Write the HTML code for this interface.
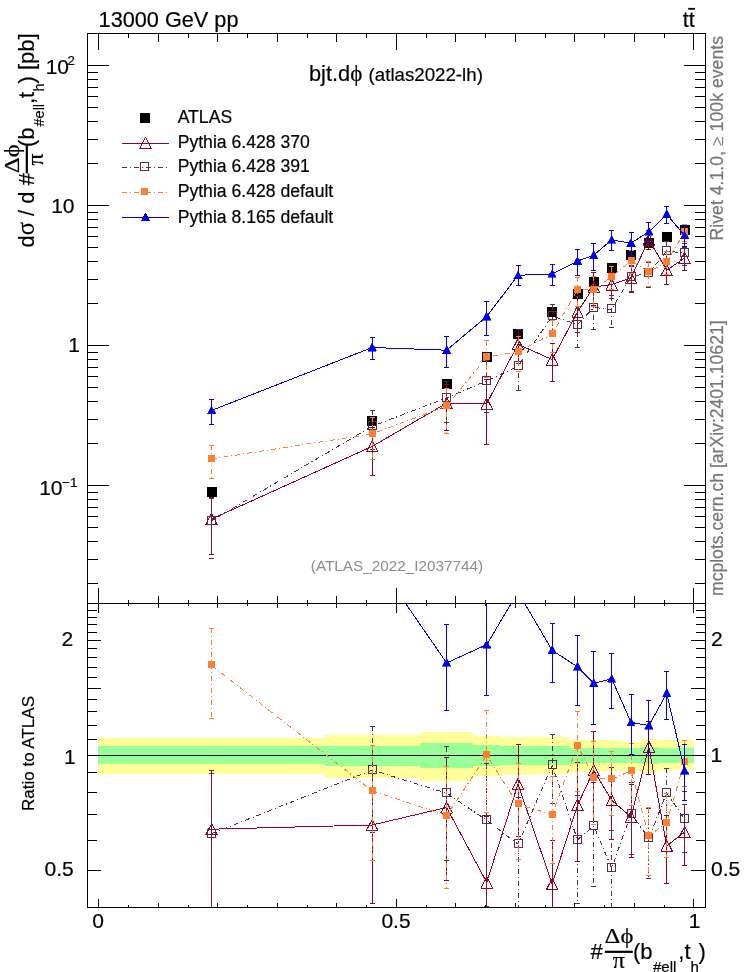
<!DOCTYPE html><html><head><meta charset="utf-8"><style>html,body{margin:0;padding:0;background:#fff}body{width:746px;height:972px;overflow:hidden}</style></head><body><svg width="746" height="972" viewBox="0 0 746 972" style="display:block;will-change:transform;font-family:'Liberation Sans',sans-serif">
<rect width="746" height="972" fill="#fff"/>
<defs>
<clipPath id="cm"><rect x="87.5" y="33.5" width="618.0" height="570.0"/></clipPath>
<clipPath id="cr"><rect x="87.5" y="603.5" width="618.0" height="304.0"/></clipPath>
</defs>
<g shape-rendering="crispEdges">
<rect x="98" y="738" width="227" height="36" fill="#ffff99"/>
<rect x="325" y="735" width="95" height="43" fill="#ffff99"/>
<rect x="420" y="732" width="53" height="49" fill="#ffff99"/>
<rect x="473" y="736" width="27" height="40" fill="#ffff99"/>
<rect x="500" y="737" width="36" height="38" fill="#ffff99"/>
<rect x="536" y="737" width="33" height="37" fill="#ffff99"/>
<rect x="569" y="740" width="17" height="32" fill="#ffff99"/>
<rect x="586" y="740" width="15" height="31" fill="#ffff99"/>
<rect x="601" y="740" width="21" height="31" fill="#ffff99"/>
<rect x="622" y="742" width="18" height="28" fill="#ffff99"/>
<rect x="640" y="739" width="18" height="33" fill="#ffff99"/>
<rect x="658" y="740" width="18" height="30" fill="#ffff99"/>
<rect x="676" y="740" width="18" height="30" fill="#ffff99"/>
<rect x="98" y="746" width="227" height="18" fill="#99ff99"/>
<rect x="325" y="746" width="95" height="20" fill="#99ff99"/>
<rect x="420" y="743" width="53" height="25" fill="#99ff99"/>
<rect x="473" y="745" width="27" height="21" fill="#99ff99"/>
<rect x="500" y="746" width="36" height="19" fill="#99ff99"/>
<rect x="536" y="746" width="33" height="19" fill="#99ff99"/>
<rect x="569" y="748" width="17" height="16" fill="#99ff99"/>
<rect x="586" y="748" width="15" height="15" fill="#99ff99"/>
<rect x="601" y="748" width="21" height="15" fill="#99ff99"/>
<rect x="622" y="748" width="18" height="15" fill="#99ff99"/>
<rect x="640" y="747" width="18" height="17" fill="#99ff99"/>
<rect x="658" y="748" width="18" height="15" fill="#99ff99"/>
<rect x="676" y="748" width="18" height="15" fill="#99ff99"/>
<line x1="98.0" x2="694.0" y1="755.5" y2="755.5" stroke="#000" stroke-width="1"/>
</g>
<g shape-rendering="crispEdges">
<g clip-path="url(#cm)">
<rect x="206.6" y="486.9" width="10" height="10" fill="#000"/>
<rect x="367.2" y="415.9" width="10" height="10" fill="#000"/>
<rect x="441.6" y="379.1" width="10" height="10" fill="#000"/>
<rect x="481.7" y="352.1" width="10" height="10" fill="#000"/>
<rect x="513.0" y="328.7" width="10" height="10" fill="#000"/>
<rect x="547.2" y="307.4" width="10" height="10" fill="#000"/>
<rect x="572.5" y="288.6" width="10" height="10" fill="#000"/>
<rect x="588.8" y="276.5" width="10" height="10" fill="#000"/>
<rect x="606.7" y="263.0" width="10" height="10" fill="#000"/>
<rect x="626.0" y="250.2" width="10" height="10" fill="#000"/>
<rect x="643.9" y="237.7" width="10" height="10" fill="#000"/>
<rect x="661.7" y="232.1" width="10" height="10" fill="#000"/>
<rect x="679.6" y="224.8" width="10" height="10" fill="#000"/>
</g>
<g clip-path="url(#cm)" fill="none">
<path d="M211.6,519.0 L372.2,446.4 L446.6,403.2 L486.7,403.7 L518.0,344.3 L552.2,359.6 L577.5,311.8 L593.8,287.0 L611.7,284.5 L631.0,277.8 L648.9,239.6 L666.7,270.2 L684.6,258.0" stroke="#9a0020" stroke-width="1"/>
<path d="M211.6,497.3V554.8" stroke="#9a0020" stroke-width="1"/>
<path d="M209.1,497.3h5M209.1,554.8h5" stroke="#9a0020" stroke-width="1"/>
<path d="M372.2,427.4V475.1" stroke="#9a0020" stroke-width="1"/>
<path d="M369.7,427.4h5M369.7,475.1h5" stroke="#9a0020" stroke-width="1"/>
<path d="M446.6,384.9V430.1" stroke="#9a0020" stroke-width="1"/>
<path d="M444.1,384.9h5M444.1,430.1h5" stroke="#9a0020" stroke-width="1"/>
<path d="M486.7,379.3V444.9" stroke="#9a0020" stroke-width="1"/>
<path d="M484.2,379.3h5M484.2,444.9h5" stroke="#9a0020" stroke-width="1"/>
<path d="M518.0,329.8V363.4" stroke="#9a0020" stroke-width="1"/>
<path d="M515.5,329.8h5M515.5,363.4h5" stroke="#9a0020" stroke-width="1"/>
<path d="M552.2,343.5V381.5" stroke="#9a0020" stroke-width="1"/>
<path d="M549.7,343.5h5M549.7,381.5h5" stroke="#9a0020" stroke-width="1"/>
<path d="M577.5,296.2V332.4" stroke="#9a0020" stroke-width="1"/>
<path d="M575.0,296.2h5M575.0,332.4h5" stroke="#9a0020" stroke-width="1"/>
<path d="M593.8,272.8V305.6" stroke="#9a0020" stroke-width="1"/>
<path d="M591.3,272.8h5M591.3,305.6h5" stroke="#9a0020" stroke-width="1"/>
<path d="M611.7,272.5V298.8" stroke="#9a0020" stroke-width="1"/>
<path d="M609.2,272.5h5M609.2,298.8h5" stroke="#9a0020" stroke-width="1"/>
<path d="M631.0,266.0V292.6" stroke="#9a0020" stroke-width="1"/>
<path d="M628.5,266.0h5M628.5,292.6h5" stroke="#9a0020" stroke-width="1"/>
<path d="M648.9,230.4V249.9" stroke="#9a0020" stroke-width="1"/>
<path d="M646.4,230.4h5M646.4,249.9h5" stroke="#9a0020" stroke-width="1"/>
<path d="M666.7,259.0V284.1" stroke="#9a0020" stroke-width="1"/>
<path d="M664.2,259.0h5M664.2,284.1h5" stroke="#9a0020" stroke-width="1"/>
<path d="M684.6,247.9V270.0" stroke="#9a0020" stroke-width="1"/>
<path d="M682.1,247.9h5M682.1,270.0h5" stroke="#9a0020" stroke-width="1"/>
<path d="M211.6,513.4L217.4,524.5L205.8,524.5Z" fill="none" stroke="#9a0020" stroke-width="1" stroke-linejoin="bevel"/>
<path d="M372.2,440.8L378.0,451.9L366.4,451.9Z" fill="none" stroke="#9a0020" stroke-width="1" stroke-linejoin="bevel"/>
<path d="M446.6,397.6L452.4,408.7L440.8,408.7Z" fill="none" stroke="#9a0020" stroke-width="1" stroke-linejoin="bevel"/>
<path d="M486.7,398.1L492.5,409.2L480.9,409.2Z" fill="none" stroke="#9a0020" stroke-width="1" stroke-linejoin="bevel"/>
<path d="M518.0,338.7L523.8,349.8L512.2,349.8Z" fill="none" stroke="#9a0020" stroke-width="1" stroke-linejoin="bevel"/>
<path d="M552.2,354.0L558.0,365.1L546.4,365.1Z" fill="none" stroke="#9a0020" stroke-width="1" stroke-linejoin="bevel"/>
<path d="M577.5,306.2L583.3,317.3L571.7,317.3Z" fill="none" stroke="#9a0020" stroke-width="1" stroke-linejoin="bevel"/>
<path d="M593.8,281.4L599.6,292.5L588.0,292.5Z" fill="none" stroke="#9a0020" stroke-width="1" stroke-linejoin="bevel"/>
<path d="M611.7,278.9L617.5,290.0L605.9,290.0Z" fill="none" stroke="#9a0020" stroke-width="1" stroke-linejoin="bevel"/>
<path d="M631.0,272.2L636.8,283.3L625.2,283.3Z" fill="none" stroke="#9a0020" stroke-width="1" stroke-linejoin="bevel"/>
<path d="M648.9,234.0L654.7,245.1L643.1,245.1Z" fill="none" stroke="#9a0020" stroke-width="1" stroke-linejoin="bevel"/>
<path d="M666.7,264.6L672.5,275.7L660.9,275.7Z" fill="none" stroke="#9a0020" stroke-width="1" stroke-linejoin="bevel"/>
<path d="M684.6,252.4L690.4,263.5L678.8,263.5Z" fill="none" stroke="#9a0020" stroke-width="1" stroke-linejoin="bevel"/>
</g>
<g clip-path="url(#cm)" fill="none">
<path d="M211.6,520.6 L372.2,426.3 L446.6,397.9 L486.7,380.9 L518.0,366.3 L552.2,316.0 L577.5,324.6 L593.8,307.5 L611.7,309.4 L631.0,276.5 L648.9,273.1 L666.7,250.8 L684.6,253.3" stroke="#5e2a4c" stroke-width="1" stroke-dasharray="5 3 1 3"/>
<path d="M211.6,498.4V558.0" stroke="#5e2a4c" stroke-width="1" stroke-dasharray="5 3 1 3"/>
<path d="M209.1,498.4h5M209.1,558.0h5" stroke="#5e2a4c" stroke-width="1"/>
<path d="M372.2,410.2V449.0" stroke="#5e2a4c" stroke-width="1" stroke-dasharray="5 3 1 3"/>
<path d="M369.7,410.2h5M369.7,449.0h5" stroke="#5e2a4c" stroke-width="1"/>
<path d="M446.6,381.0V422.5" stroke="#5e2a4c" stroke-width="1" stroke-dasharray="5 3 1 3"/>
<path d="M444.1,381.0h5M444.1,422.5h5" stroke="#5e2a4c" stroke-width="1"/>
<path d="M486.7,360.2V412.4" stroke="#5e2a4c" stroke-width="1" stroke-dasharray="5 3 1 3"/>
<path d="M484.2,360.2h5M484.2,412.4h5" stroke="#5e2a4c" stroke-width="1"/>
<path d="M518.0,349.0V390.4" stroke="#5e2a4c" stroke-width="1" stroke-dasharray="5 3 1 3"/>
<path d="M515.5,349.0h5M515.5,390.4h5" stroke="#5e2a4c" stroke-width="1"/>
<path d="M552.2,304.6V330.2" stroke="#5e2a4c" stroke-width="1" stroke-dasharray="5 3 1 3"/>
<path d="M549.7,304.6h5M549.7,330.2h5" stroke="#5e2a4c" stroke-width="1"/>
<path d="M577.5,308.4V347.7" stroke="#5e2a4c" stroke-width="1" stroke-dasharray="5 3 1 3"/>
<path d="M575.0,308.4h5M575.0,347.7h5" stroke="#5e2a4c" stroke-width="1"/>
<path d="M593.8,291.3V329.5" stroke="#5e2a4c" stroke-width="1" stroke-dasharray="5 3 1 3"/>
<path d="M591.3,291.3h5M591.3,329.5h5" stroke="#5e2a4c" stroke-width="1"/>
<path d="M611.7,295.5V327.2" stroke="#5e2a4c" stroke-width="1" stroke-dasharray="5 3 1 3"/>
<path d="M609.2,295.5h5M609.2,327.2h5" stroke="#5e2a4c" stroke-width="1"/>
<path d="M631.0,265.3V291.6" stroke="#5e2a4c" stroke-width="1" stroke-dasharray="5 3 1 3"/>
<path d="M628.5,265.3h5M628.5,291.6h5" stroke="#5e2a4c" stroke-width="1"/>
<path d="M648.9,262.1V287.9" stroke="#5e2a4c" stroke-width="1" stroke-dasharray="5 3 1 3"/>
<path d="M646.4,262.1h5M646.4,287.9h5" stroke="#5e2a4c" stroke-width="1"/>
<path d="M666.7,241.7V261.5" stroke="#5e2a4c" stroke-width="1" stroke-dasharray="5 3 1 3"/>
<path d="M664.2,241.7h5M664.2,261.5h5" stroke="#5e2a4c" stroke-width="1"/>
<path d="M684.6,243.1V265.5" stroke="#5e2a4c" stroke-width="1" stroke-dasharray="5 3 1 3"/>
<path d="M682.1,243.1h5M682.1,265.5h5" stroke="#5e2a4c" stroke-width="1"/>
<rect x="207.6" y="516.1" width="8" height="8" fill="none" stroke="#5e2a4c" stroke-width="1"/>
<rect x="368.2" y="421.8" width="8" height="8" fill="none" stroke="#5e2a4c" stroke-width="1"/>
<rect x="442.6" y="393.4" width="8" height="8" fill="none" stroke="#5e2a4c" stroke-width="1"/>
<rect x="482.7" y="376.4" width="8" height="8" fill="none" stroke="#5e2a4c" stroke-width="1"/>
<rect x="514.0" y="361.8" width="8" height="8" fill="none" stroke="#5e2a4c" stroke-width="1"/>
<rect x="548.2" y="311.5" width="8" height="8" fill="none" stroke="#5e2a4c" stroke-width="1"/>
<rect x="573.5" y="320.1" width="8" height="8" fill="none" stroke="#5e2a4c" stroke-width="1"/>
<rect x="589.8" y="303.0" width="8" height="8" fill="none" stroke="#5e2a4c" stroke-width="1"/>
<rect x="607.7" y="304.9" width="8" height="8" fill="none" stroke="#5e2a4c" stroke-width="1"/>
<rect x="627.0" y="272.0" width="8" height="8" fill="none" stroke="#5e2a4c" stroke-width="1"/>
<rect x="644.9" y="268.6" width="8" height="8" fill="none" stroke="#5e2a4c" stroke-width="1"/>
<rect x="662.7" y="246.3" width="8" height="8" fill="none" stroke="#5e2a4c" stroke-width="1"/>
<rect x="680.6" y="248.8" width="8" height="8" fill="none" stroke="#5e2a4c" stroke-width="1"/>
</g>
<g clip-path="url(#cm)" fill="none">
<path d="M211.6,458.9 L372.2,433.9 L446.6,406.1 L486.7,357.1 L518.0,351.6 L552.2,334.1 L577.5,290.0 L593.8,289.7 L611.7,276.8 L631.0,260.8 L648.9,272.2 L666.7,261.7 L684.6,232.2" stroke="#ff7f32" stroke-width="1" stroke-dasharray="5 3 1 3"/>
<path d="M211.6,445.3V478.2" stroke="#ff7f32" stroke-width="1" stroke-dasharray="5 3 1 3"/>
<path d="M209.1,445.3h5M209.1,478.2h5" stroke="#ff7f32" stroke-width="1"/>
<path d="M372.2,417.2V459.3" stroke="#ff7f32" stroke-width="1" stroke-dasharray="5 3 1 3"/>
<path d="M369.7,417.2h5M369.7,459.3h5" stroke="#ff7f32" stroke-width="1"/>
<path d="M446.6,388.2V433.0" stroke="#ff7f32" stroke-width="1" stroke-dasharray="5 3 1 3"/>
<path d="M444.1,388.2h5M444.1,433.0h5" stroke="#ff7f32" stroke-width="1"/>
<path d="M486.7,340.5V377.9" stroke="#ff7f32" stroke-width="1" stroke-dasharray="5 3 1 3"/>
<path d="M484.2,340.5h5M484.2,377.9h5" stroke="#ff7f32" stroke-width="1"/>
<path d="M518.0,336.5V371.8" stroke="#ff7f32" stroke-width="1" stroke-dasharray="5 3 1 3"/>
<path d="M515.5,336.5h5M515.5,371.8h5" stroke="#ff7f32" stroke-width="1"/>
<path d="M552.2,320.3V352.0" stroke="#ff7f32" stroke-width="1" stroke-dasharray="5 3 1 3"/>
<path d="M549.7,320.3h5M549.7,352.0h5" stroke="#ff7f32" stroke-width="1"/>
<path d="M577.5,277.3V306.9" stroke="#ff7f32" stroke-width="1" stroke-dasharray="5 3 1 3"/>
<path d="M575.0,277.3h5M575.0,306.9h5" stroke="#ff7f32" stroke-width="1"/>
<path d="M593.8,276.2V306.9" stroke="#ff7f32" stroke-width="1" stroke-dasharray="5 3 1 3"/>
<path d="M591.3,276.2h5M591.3,306.9h5" stroke="#ff7f32" stroke-width="1"/>
<path d="M611.7,266.6V289.9" stroke="#ff7f32" stroke-width="1" stroke-dasharray="5 3 1 3"/>
<path d="M609.2,266.6h5M609.2,289.9h5" stroke="#ff7f32" stroke-width="1"/>
<path d="M631.0,250.7V273.4" stroke="#ff7f32" stroke-width="1" stroke-dasharray="5 3 1 3"/>
<path d="M628.5,250.7h5M628.5,273.4h5" stroke="#ff7f32" stroke-width="1"/>
<path d="M648.9,261.6V286.7" stroke="#ff7f32" stroke-width="1" stroke-dasharray="5 3 1 3"/>
<path d="M646.4,261.6h5M646.4,286.7h5" stroke="#ff7f32" stroke-width="1"/>
<path d="M666.7,251.1V274.6" stroke="#ff7f32" stroke-width="1" stroke-dasharray="5 3 1 3"/>
<path d="M664.2,251.1h5M664.2,274.6h5" stroke="#ff7f32" stroke-width="1"/>
<path d="M684.6,224.3V241.2" stroke="#ff7f32" stroke-width="1" stroke-dasharray="5 3 1 3"/>
<path d="M682.1,224.3h5M682.1,241.2h5" stroke="#ff7f32" stroke-width="1"/>
<rect x="208.1" y="454.9" width="7" height="7" fill="#ff7f32"/>
<rect x="368.7" y="429.9" width="7" height="7" fill="#ff7f32"/>
<rect x="443.1" y="402.1" width="7" height="7" fill="#ff7f32"/>
<rect x="483.2" y="353.1" width="7" height="7" fill="#ff7f32"/>
<rect x="514.5" y="347.6" width="7" height="7" fill="#ff7f32"/>
<rect x="548.7" y="330.1" width="7" height="7" fill="#ff7f32"/>
<rect x="574.0" y="286.0" width="7" height="7" fill="#ff7f32"/>
<rect x="590.3" y="285.7" width="7" height="7" fill="#ff7f32"/>
<rect x="608.2" y="272.8" width="7" height="7" fill="#ff7f32"/>
<rect x="627.5" y="256.8" width="7" height="7" fill="#ff7f32"/>
<rect x="645.4" y="268.2" width="7" height="7" fill="#ff7f32"/>
<rect x="663.2" y="257.7" width="7" height="7" fill="#ff7f32"/>
<rect x="681.1" y="228.2" width="7" height="7" fill="#ff7f32"/>
</g>
<g clip-path="url(#cm)" fill="none">
<path d="M211.6,410.4 L372.2,347.5 L446.6,350.2 L486.7,316.5 L518.0,275.3 L552.2,273.9 L577.5,261.1 L593.8,255.1 L611.7,239.9 L631.0,243.1 L648.9,231.8 L666.7,214.4 L684.6,235.4" stroke="#0000ee" stroke-width="1"/>
<path d="M211.6,399.3V424.3" stroke="#0000ee" stroke-width="1"/>
<path d="M209.1,399.3h5M209.1,424.3h5" stroke="#0000ee" stroke-width="1"/>
<path d="M372.2,337.3V359.5" stroke="#0000ee" stroke-width="1"/>
<path d="M369.7,337.3h5M369.7,359.5h5" stroke="#0000ee" stroke-width="1"/>
<path d="M446.6,336.3V367.8" stroke="#0000ee" stroke-width="1"/>
<path d="M444.1,336.3h5M444.1,367.8h5" stroke="#0000ee" stroke-width="1"/>
<path d="M486.7,301.0V335.3" stroke="#0000ee" stroke-width="1"/>
<path d="M484.2,301.0h5M484.2,335.3h5" stroke="#0000ee" stroke-width="1"/>
<path d="M518.0,265.5V285.4" stroke="#0000ee" stroke-width="1"/>
<path d="M515.5,265.5h5M515.5,285.4h5" stroke="#0000ee" stroke-width="1"/>
<path d="M552.2,264.2V285.6" stroke="#0000ee" stroke-width="1"/>
<path d="M549.7,264.2h5M549.7,285.6h5" stroke="#0000ee" stroke-width="1"/>
<path d="M577.5,249.6V275.4" stroke="#0000ee" stroke-width="1"/>
<path d="M575.0,249.6h5M575.0,275.4h5" stroke="#0000ee" stroke-width="1"/>
<path d="M593.8,243.4V270.2" stroke="#0000ee" stroke-width="1"/>
<path d="M591.3,243.4h5M591.3,270.2h5" stroke="#0000ee" stroke-width="1"/>
<path d="M611.7,230.6V250.9" stroke="#0000ee" stroke-width="1"/>
<path d="M609.2,230.6h5M609.2,250.9h5" stroke="#0000ee" stroke-width="1"/>
<path d="M631.0,232.9V255.0" stroke="#0000ee" stroke-width="1"/>
<path d="M628.5,232.9h5M628.5,255.0h5" stroke="#0000ee" stroke-width="1"/>
<path d="M648.9,222.5V242.6" stroke="#0000ee" stroke-width="1"/>
<path d="M646.4,222.5h5M646.4,242.6h5" stroke="#0000ee" stroke-width="1"/>
<path d="M666.7,206.2V223.9" stroke="#0000ee" stroke-width="1"/>
<path d="M664.2,206.2h5M664.2,223.9h5" stroke="#0000ee" stroke-width="1"/>
<path d="M684.6,225.8V246.5" stroke="#0000ee" stroke-width="1"/>
<path d="M682.1,225.8h5M682.1,246.5h5" stroke="#0000ee" stroke-width="1"/>
<path d="M211.6,405.9L215.8,413.9L207.4,413.9Z" fill="#0000ee" stroke="#0000ee" stroke-width="0.6"/>
<path d="M372.2,343.0L376.4,351.0L368.0,351.0Z" fill="#0000ee" stroke="#0000ee" stroke-width="0.6"/>
<path d="M446.6,345.7L450.8,353.7L442.4,353.7Z" fill="#0000ee" stroke="#0000ee" stroke-width="0.6"/>
<path d="M486.7,312.0L490.9,320.0L482.5,320.0Z" fill="#0000ee" stroke="#0000ee" stroke-width="0.6"/>
<path d="M518.0,270.8L522.2,278.8L513.8,278.8Z" fill="#0000ee" stroke="#0000ee" stroke-width="0.6"/>
<path d="M552.2,269.4L556.4,277.4L548.0,277.4Z" fill="#0000ee" stroke="#0000ee" stroke-width="0.6"/>
<path d="M577.5,256.6L581.7,264.6L573.3,264.6Z" fill="#0000ee" stroke="#0000ee" stroke-width="0.6"/>
<path d="M593.8,250.6L598.0,258.6L589.6,258.6Z" fill="#0000ee" stroke="#0000ee" stroke-width="0.6"/>
<path d="M611.7,235.4L615.9,243.4L607.5,243.4Z" fill="#0000ee" stroke="#0000ee" stroke-width="0.6"/>
<path d="M631.0,238.6L635.2,246.6L626.8,246.6Z" fill="#0000ee" stroke="#0000ee" stroke-width="0.6"/>
<path d="M648.9,227.3L653.1,235.3L644.7,235.3Z" fill="#0000ee" stroke="#0000ee" stroke-width="0.6"/>
<path d="M666.7,209.9L670.9,217.9L662.5,217.9Z" fill="#0000ee" stroke="#0000ee" stroke-width="0.6"/>
<path d="M684.6,230.9L688.8,238.9L680.4,238.9Z" fill="#0000ee" stroke="#0000ee" stroke-width="0.6"/>
</g>
<g clip-path="url(#cr)" fill="none">
<path d="M211.6,829.2 L372.2,825.0 L446.6,807.5 L486.7,882.5 L518.0,784.2 L552.2,884.1 L577.5,805.1 L593.8,770.4 L611.7,800.4 L631.0,817.0 L648.9,747.0 L666.7,845.8 L684.6,832.2" stroke="#9a0020" stroke-width="1"/>
<path d="M211.6,770.0V927.0" stroke="#9a0020" stroke-width="1"/>
<path d="M209.1,770.0h5M209.1,927.0h5" stroke="#9a0020" stroke-width="1"/>
<path d="M372.2,773.0V903.2" stroke="#9a0020" stroke-width="1"/>
<path d="M369.7,773.0h5M369.7,903.2h5" stroke="#9a0020" stroke-width="1"/>
<path d="M446.6,757.4V880.9" stroke="#9a0020" stroke-width="1"/>
<path d="M444.1,757.4h5M444.1,880.9h5" stroke="#9a0020" stroke-width="1"/>
<path d="M486.7,816.0V995.0" stroke="#9a0020" stroke-width="1"/>
<path d="M484.2,816.0h5M484.2,995.0h5" stroke="#9a0020" stroke-width="1"/>
<path d="M518.0,744.6V836.3" stroke="#9a0020" stroke-width="1"/>
<path d="M515.5,744.6h5M515.5,836.3h5" stroke="#9a0020" stroke-width="1"/>
<path d="M552.2,840.2V943.9" stroke="#9a0020" stroke-width="1"/>
<path d="M549.7,840.2h5M549.7,943.9h5" stroke="#9a0020" stroke-width="1"/>
<path d="M577.5,762.4V861.3" stroke="#9a0020" stroke-width="1"/>
<path d="M575.0,762.4h5M575.0,861.3h5" stroke="#9a0020" stroke-width="1"/>
<path d="M593.8,731.6V821.1" stroke="#9a0020" stroke-width="1"/>
<path d="M591.3,731.6h5M591.3,821.1h5" stroke="#9a0020" stroke-width="1"/>
<path d="M611.7,767.7V839.5" stroke="#9a0020" stroke-width="1"/>
<path d="M609.2,767.7h5M609.2,839.5h5" stroke="#9a0020" stroke-width="1"/>
<path d="M631.0,784.8V857.3" stroke="#9a0020" stroke-width="1"/>
<path d="M628.5,784.8h5M628.5,857.3h5" stroke="#9a0020" stroke-width="1"/>
<path d="M648.9,721.8V774.9" stroke="#9a0020" stroke-width="1"/>
<path d="M646.4,721.8h5M646.4,774.9h5" stroke="#9a0020" stroke-width="1"/>
<path d="M666.7,815.1V883.6" stroke="#9a0020" stroke-width="1"/>
<path d="M664.2,815.1h5M664.2,883.6h5" stroke="#9a0020" stroke-width="1"/>
<path d="M684.6,804.8V865.1" stroke="#9a0020" stroke-width="1"/>
<path d="M682.1,804.8h5M682.1,865.1h5" stroke="#9a0020" stroke-width="1"/>
<path d="M211.6,823.6L217.4,834.7L205.8,834.7Z" fill="none" stroke="#9a0020" stroke-width="1" stroke-linejoin="bevel"/>
<path d="M372.2,819.4L378.0,830.5L366.4,830.5Z" fill="none" stroke="#9a0020" stroke-width="1" stroke-linejoin="bevel"/>
<path d="M446.6,801.9L452.4,813.0L440.8,813.0Z" fill="none" stroke="#9a0020" stroke-width="1" stroke-linejoin="bevel"/>
<path d="M486.7,876.9L492.5,888.0L480.9,888.0Z" fill="none" stroke="#9a0020" stroke-width="1" stroke-linejoin="bevel"/>
<path d="M518.0,778.6L523.8,789.7L512.2,789.7Z" fill="none" stroke="#9a0020" stroke-width="1" stroke-linejoin="bevel"/>
<path d="M552.2,878.5L558.0,889.6L546.4,889.6Z" fill="none" stroke="#9a0020" stroke-width="1" stroke-linejoin="bevel"/>
<path d="M577.5,799.5L583.3,810.6L571.7,810.6Z" fill="none" stroke="#9a0020" stroke-width="1" stroke-linejoin="bevel"/>
<path d="M593.8,764.8L599.6,775.9L588.0,775.9Z" fill="none" stroke="#9a0020" stroke-width="1" stroke-linejoin="bevel"/>
<path d="M611.7,794.8L617.5,805.9L605.9,805.9Z" fill="none" stroke="#9a0020" stroke-width="1" stroke-linejoin="bevel"/>
<path d="M631.0,811.4L636.8,822.5L625.2,822.5Z" fill="none" stroke="#9a0020" stroke-width="1" stroke-linejoin="bevel"/>
<path d="M648.9,741.4L654.7,752.5L643.1,752.5Z" fill="none" stroke="#9a0020" stroke-width="1" stroke-linejoin="bevel"/>
<path d="M666.7,840.2L672.5,851.3L660.9,851.3Z" fill="none" stroke="#9a0020" stroke-width="1" stroke-linejoin="bevel"/>
<path d="M684.6,826.6L690.4,837.7L678.8,837.7Z" fill="none" stroke="#9a0020" stroke-width="1" stroke-linejoin="bevel"/>
</g>
<g clip-path="url(#cr)" fill="none">
<path d="M211.6,833.6 L372.2,770.1 L446.6,793.1 L486.7,820.2 L518.0,844.2 L552.2,765.3 L577.5,839.8 L593.8,826.2 L611.7,868.2 L631.0,813.5 L648.9,838.4 L666.7,792.7 L684.6,819.4" stroke="#5e2a4c" stroke-width="1" stroke-dasharray="5 3 1 3"/>
<path d="M211.6,773.0V935.7" stroke="#5e2a4c" stroke-width="1" stroke-dasharray="5 3 1 3"/>
<path d="M209.1,773.0h5M209.1,935.7h5" stroke="#5e2a4c" stroke-width="1"/>
<path d="M372.2,726.1V832.0" stroke="#5e2a4c" stroke-width="1" stroke-dasharray="5 3 1 3"/>
<path d="M369.7,726.1h5M369.7,832.0h5" stroke="#5e2a4c" stroke-width="1"/>
<path d="M446.6,746.8V860.0" stroke="#5e2a4c" stroke-width="1" stroke-dasharray="5 3 1 3"/>
<path d="M444.1,746.8h5M444.1,860.0h5" stroke="#5e2a4c" stroke-width="1"/>
<path d="M486.7,763.9V906.2" stroke="#5e2a4c" stroke-width="1" stroke-dasharray="5 3 1 3"/>
<path d="M484.2,763.9h5M484.2,906.2h5" stroke="#5e2a4c" stroke-width="1"/>
<path d="M518.0,797.2V910.0" stroke="#5e2a4c" stroke-width="1" stroke-dasharray="5 3 1 3"/>
<path d="M515.5,797.2h5M515.5,910.0h5" stroke="#5e2a4c" stroke-width="1"/>
<path d="M552.2,734.1V803.8" stroke="#5e2a4c" stroke-width="1" stroke-dasharray="5 3 1 3"/>
<path d="M549.7,734.1h5M549.7,803.8h5" stroke="#5e2a4c" stroke-width="1"/>
<path d="M577.5,795.7V903.0" stroke="#5e2a4c" stroke-width="1" stroke-dasharray="5 3 1 3"/>
<path d="M575.0,795.7h5M575.0,903.0h5" stroke="#5e2a4c" stroke-width="1"/>
<path d="M593.8,782.2V886.2" stroke="#5e2a4c" stroke-width="1" stroke-dasharray="5 3 1 3"/>
<path d="M591.3,782.2h5M591.3,886.2h5" stroke="#5e2a4c" stroke-width="1"/>
<path d="M611.7,830.5V917.0" stroke="#5e2a4c" stroke-width="1" stroke-dasharray="5 3 1 3"/>
<path d="M609.2,830.5h5M609.2,917.0h5" stroke="#5e2a4c" stroke-width="1"/>
<path d="M631.0,782.9V854.7" stroke="#5e2a4c" stroke-width="1" stroke-dasharray="5 3 1 3"/>
<path d="M628.5,782.9h5M628.5,854.7h5" stroke="#5e2a4c" stroke-width="1"/>
<path d="M648.9,808.3V878.7" stroke="#5e2a4c" stroke-width="1" stroke-dasharray="5 3 1 3"/>
<path d="M646.4,808.3h5M646.4,878.7h5" stroke="#5e2a4c" stroke-width="1"/>
<path d="M666.7,768.0V821.8" stroke="#5e2a4c" stroke-width="1" stroke-dasharray="5 3 1 3"/>
<path d="M664.2,768.0h5M664.2,821.8h5" stroke="#5e2a4c" stroke-width="1"/>
<path d="M684.6,791.7V852.7" stroke="#5e2a4c" stroke-width="1" stroke-dasharray="5 3 1 3"/>
<path d="M682.1,791.7h5M682.1,852.7h5" stroke="#5e2a4c" stroke-width="1"/>
<rect x="207.6" y="829.1" width="8" height="8" fill="none" stroke="#5e2a4c" stroke-width="1"/>
<rect x="368.2" y="765.6" width="8" height="8" fill="none" stroke="#5e2a4c" stroke-width="1"/>
<rect x="442.6" y="788.6" width="8" height="8" fill="none" stroke="#5e2a4c" stroke-width="1"/>
<rect x="482.7" y="815.7" width="8" height="8" fill="none" stroke="#5e2a4c" stroke-width="1"/>
<rect x="514.0" y="839.7" width="8" height="8" fill="none" stroke="#5e2a4c" stroke-width="1"/>
<rect x="548.2" y="760.8" width="8" height="8" fill="none" stroke="#5e2a4c" stroke-width="1"/>
<rect x="573.5" y="835.3" width="8" height="8" fill="none" stroke="#5e2a4c" stroke-width="1"/>
<rect x="589.8" y="821.7" width="8" height="8" fill="none" stroke="#5e2a4c" stroke-width="1"/>
<rect x="607.7" y="863.7" width="8" height="8" fill="none" stroke="#5e2a4c" stroke-width="1"/>
<rect x="627.0" y="809.0" width="8" height="8" fill="none" stroke="#5e2a4c" stroke-width="1"/>
<rect x="644.9" y="833.9" width="8" height="8" fill="none" stroke="#5e2a4c" stroke-width="1"/>
<rect x="662.7" y="788.2" width="8" height="8" fill="none" stroke="#5e2a4c" stroke-width="1"/>
<rect x="680.6" y="814.9" width="8" height="8" fill="none" stroke="#5e2a4c" stroke-width="1"/>
</g>
<g clip-path="url(#cr)" fill="none">
<path d="M211.6,665.4 L372.2,790.9 L446.6,815.5 L486.7,755.4 L518.0,804.3 L552.2,814.5 L577.5,745.6 L593.8,777.6 L611.7,779.4 L631.0,770.6 L648.9,835.9 L666.7,822.6 L684.6,761.8" stroke="#ff7f32" stroke-width="1" stroke-dasharray="5 3 1 3"/>
<path d="M211.6,628.1V718.1" stroke="#ff7f32" stroke-width="1" stroke-dasharray="5 3 1 3"/>
<path d="M209.1,628.1h5M209.1,718.1h5" stroke="#ff7f32" stroke-width="1"/>
<path d="M372.2,745.2V860.1" stroke="#ff7f32" stroke-width="1" stroke-dasharray="5 3 1 3"/>
<path d="M369.7,745.2h5M369.7,860.1h5" stroke="#ff7f32" stroke-width="1"/>
<path d="M446.6,766.6V888.9" stroke="#ff7f32" stroke-width="1" stroke-dasharray="5 3 1 3"/>
<path d="M444.1,766.6h5M444.1,888.9h5" stroke="#ff7f32" stroke-width="1"/>
<path d="M486.7,710.1V812.2" stroke="#ff7f32" stroke-width="1" stroke-dasharray="5 3 1 3"/>
<path d="M484.2,710.1h5M484.2,812.2h5" stroke="#ff7f32" stroke-width="1"/>
<path d="M518.0,763.1V859.2" stroke="#ff7f32" stroke-width="1" stroke-dasharray="5 3 1 3"/>
<path d="M515.5,763.1h5M515.5,859.2h5" stroke="#ff7f32" stroke-width="1"/>
<path d="M552.2,776.8V863.3" stroke="#ff7f32" stroke-width="1" stroke-dasharray="5 3 1 3"/>
<path d="M549.7,776.8h5M549.7,863.3h5" stroke="#ff7f32" stroke-width="1"/>
<path d="M577.5,711.0V791.6" stroke="#ff7f32" stroke-width="1" stroke-dasharray="5 3 1 3"/>
<path d="M575.0,711.0h5M575.0,791.6h5" stroke="#ff7f32" stroke-width="1"/>
<path d="M593.8,741.0V824.7" stroke="#ff7f32" stroke-width="1" stroke-dasharray="5 3 1 3"/>
<path d="M591.3,741.0h5M591.3,824.7h5" stroke="#ff7f32" stroke-width="1"/>
<path d="M611.7,751.4V815.0" stroke="#ff7f32" stroke-width="1" stroke-dasharray="5 3 1 3"/>
<path d="M609.2,751.4h5M609.2,815.0h5" stroke="#ff7f32" stroke-width="1"/>
<path d="M631.0,743.1V805.0" stroke="#ff7f32" stroke-width="1" stroke-dasharray="5 3 1 3"/>
<path d="M628.5,743.1h5M628.5,805.0h5" stroke="#ff7f32" stroke-width="1"/>
<path d="M648.9,807.0V875.5" stroke="#ff7f32" stroke-width="1" stroke-dasharray="5 3 1 3"/>
<path d="M646.4,807.0h5M646.4,875.5h5" stroke="#ff7f32" stroke-width="1"/>
<path d="M666.7,793.6V857.7" stroke="#ff7f32" stroke-width="1" stroke-dasharray="5 3 1 3"/>
<path d="M664.2,793.6h5M664.2,857.7h5" stroke="#ff7f32" stroke-width="1"/>
<path d="M684.6,740.3V786.5" stroke="#ff7f32" stroke-width="1" stroke-dasharray="5 3 1 3"/>
<path d="M682.1,740.3h5M682.1,786.5h5" stroke="#ff7f32" stroke-width="1"/>
<rect x="208.1" y="661.4" width="7" height="7" fill="#ff7f32"/>
<rect x="368.7" y="786.9" width="7" height="7" fill="#ff7f32"/>
<rect x="443.1" y="811.5" width="7" height="7" fill="#ff7f32"/>
<rect x="483.2" y="751.4" width="7" height="7" fill="#ff7f32"/>
<rect x="514.5" y="800.3" width="7" height="7" fill="#ff7f32"/>
<rect x="548.7" y="810.5" width="7" height="7" fill="#ff7f32"/>
<rect x="574.0" y="741.6" width="7" height="7" fill="#ff7f32"/>
<rect x="590.3" y="773.6" width="7" height="7" fill="#ff7f32"/>
<rect x="608.2" y="775.4" width="7" height="7" fill="#ff7f32"/>
<rect x="627.5" y="766.6" width="7" height="7" fill="#ff7f32"/>
<rect x="645.4" y="831.9" width="7" height="7" fill="#ff7f32"/>
<rect x="663.2" y="818.6" width="7" height="7" fill="#ff7f32"/>
<rect x="681.1" y="757.8" width="7" height="7" fill="#ff7f32"/>
</g>
<g clip-path="url(#cr)" fill="none">
<path d="M211.6,533.0 L372.2,555.1 L446.6,662.9 L486.7,644.7 L518.0,592.0 L552.2,650.4 L577.5,666.8 L593.8,683.4 L611.7,678.8 L631.0,722.4 L648.9,725.5 L666.7,693.4 L684.6,770.5" stroke="#0000ee" stroke-width="1"/>
<path d="M446.6,624.9V710.8" stroke="#0000ee" stroke-width="1"/>
<path d="M444.1,624.9h5M444.1,710.8h5" stroke="#0000ee" stroke-width="1"/>
<path d="M486.7,602.4V695.8" stroke="#0000ee" stroke-width="1"/>
<path d="M484.2,602.4h5M484.2,695.8h5" stroke="#0000ee" stroke-width="1"/>
<path d="M552.2,623.9V682.3" stroke="#0000ee" stroke-width="1"/>
<path d="M549.7,623.9h5M549.7,682.3h5" stroke="#0000ee" stroke-width="1"/>
<path d="M577.5,635.3V705.6" stroke="#0000ee" stroke-width="1"/>
<path d="M575.0,635.3h5M575.0,705.6h5" stroke="#0000ee" stroke-width="1"/>
<path d="M593.8,651.3V724.5" stroke="#0000ee" stroke-width="1"/>
<path d="M591.3,651.3h5M591.3,724.5h5" stroke="#0000ee" stroke-width="1"/>
<path d="M611.7,653.4V708.6" stroke="#0000ee" stroke-width="1"/>
<path d="M609.2,653.4h5M609.2,708.6h5" stroke="#0000ee" stroke-width="1"/>
<path d="M631.0,694.6V754.7" stroke="#0000ee" stroke-width="1"/>
<path d="M628.5,694.6h5M628.5,754.7h5" stroke="#0000ee" stroke-width="1"/>
<path d="M648.9,700.3V755.2" stroke="#0000ee" stroke-width="1"/>
<path d="M646.4,700.3h5M646.4,755.2h5" stroke="#0000ee" stroke-width="1"/>
<path d="M666.7,671.1V719.3" stroke="#0000ee" stroke-width="1"/>
<path d="M664.2,671.1h5M664.2,719.3h5" stroke="#0000ee" stroke-width="1"/>
<path d="M684.6,744.5V800.8" stroke="#0000ee" stroke-width="1"/>
<path d="M682.1,744.5h5M682.1,800.8h5" stroke="#0000ee" stroke-width="1"/>
<path d="M446.6,658.4L450.8,666.4L442.4,666.4Z" fill="#0000ee" stroke="#0000ee" stroke-width="0.6"/>
<path d="M486.7,640.2L490.9,648.2L482.5,648.2Z" fill="#0000ee" stroke="#0000ee" stroke-width="0.6"/>
<path d="M552.2,645.9L556.4,653.9L548.0,653.9Z" fill="#0000ee" stroke="#0000ee" stroke-width="0.6"/>
<path d="M577.5,662.3L581.7,670.3L573.3,670.3Z" fill="#0000ee" stroke="#0000ee" stroke-width="0.6"/>
<path d="M593.8,678.9L598.0,686.9L589.6,686.9Z" fill="#0000ee" stroke="#0000ee" stroke-width="0.6"/>
<path d="M611.7,674.3L615.9,682.3L607.5,682.3Z" fill="#0000ee" stroke="#0000ee" stroke-width="0.6"/>
<path d="M631.0,717.9L635.2,725.9L626.8,725.9Z" fill="#0000ee" stroke="#0000ee" stroke-width="0.6"/>
<path d="M648.9,721.0L653.1,729.0L644.7,729.0Z" fill="#0000ee" stroke="#0000ee" stroke-width="0.6"/>
<path d="M666.7,688.9L670.9,696.9L662.5,696.9Z" fill="#0000ee" stroke="#0000ee" stroke-width="0.6"/>
<path d="M684.6,766.0L688.8,774.0L680.4,774.0Z" fill="#0000ee" stroke="#0000ee" stroke-width="0.6"/>
</g>
</g>
<g stroke="#000" stroke-width="1" fill="none" shape-rendering="crispEdges">
<rect x="87.5" y="33.5" width="618.0" height="570.0"/>
<rect x="87.5" y="603.5" width="618.0" height="304.0"/>
<path d="M98.5,33.5v16M98.5,587.5v25M98.5,907.5v-9M128.5,33.5v4M128.5,599.5v6M128.5,907.5v-3M158.5,33.5v8M158.5,595.5v12M158.5,907.5v-5M188.5,33.5v4M188.5,599.5v6M188.5,907.5v-3M217.5,33.5v8M217.5,595.5v12M217.5,907.5v-5M247.5,33.5v4M247.5,599.5v6M247.5,907.5v-3M277.5,33.5v8M277.5,595.5v12M277.5,907.5v-5M307.5,33.5v4M307.5,599.5v6M307.5,907.5v-3M336.5,33.5v8M336.5,595.5v12M336.5,907.5v-5M366.5,33.5v4M366.5,599.5v6M366.5,907.5v-3M396.5,33.5v16M396.5,587.5v25M396.5,907.5v-9M426.5,33.5v4M426.5,599.5v6M426.5,907.5v-3M455.5,33.5v8M455.5,595.5v12M455.5,907.5v-5M485.5,33.5v4M485.5,599.5v6M485.5,907.5v-3M515.5,33.5v8M515.5,595.5v12M515.5,907.5v-5M545.5,33.5v4M545.5,599.5v6M545.5,907.5v-3M574.5,33.5v8M574.5,595.5v12M574.5,907.5v-5M604.5,33.5v4M604.5,599.5v6M604.5,907.5v-3M634.5,33.5v8M634.5,595.5v12M634.5,907.5v-5M664.5,33.5v4M664.5,599.5v6M664.5,907.5v-3M693.5,33.5v16M693.5,587.5v25M693.5,907.5v-9M87.5,583.5h10M705.5,583.5h-11M87.5,559.5h10M705.5,559.5h-11M87.5,541.5h10M705.5,541.5h-11M87.5,527.5h10M705.5,527.5h-11M87.5,516.5h10M705.5,516.5h-11M87.5,507.5h10M705.5,507.5h-11M87.5,499.5h10M705.5,499.5h-11M87.5,492.5h10M705.5,492.5h-11M87.5,485.5h21M705.5,485.5h-22M87.5,443.5h10M705.5,443.5h-11M87.5,419.5h10M705.5,419.5h-11M87.5,401.5h10M705.5,401.5h-11M87.5,387.5h10M705.5,387.5h-11M87.5,376.5h10M705.5,376.5h-11M87.5,367.5h10M705.5,367.5h-11M87.5,359.5h10M705.5,359.5h-11M87.5,352.5h10M705.5,352.5h-11M87.5,345.5h21M705.5,345.5h-22M87.5,303.5h10M705.5,303.5h-11M87.5,279.5h10M705.5,279.5h-11M87.5,261.5h10M705.5,261.5h-11M87.5,247.5h10M705.5,247.5h-11M87.5,236.5h10M705.5,236.5h-11M87.5,227.5h10M705.5,227.5h-11M87.5,219.5h10M705.5,219.5h-11M87.5,212.5h10M705.5,212.5h-11M87.5,205.5h21M705.5,205.5h-22M87.5,163.5h10M705.5,163.5h-11M87.5,139.5h10M705.5,139.5h-11M87.5,121.5h10M705.5,121.5h-11M87.5,107.5h10M705.5,107.5h-11M87.5,96.5h10M705.5,96.5h-11M87.5,87.5h10M705.5,87.5h-11M87.5,79.5h10M705.5,79.5h-11M87.5,72.5h10M705.5,72.5h-11M87.5,65.5h21M705.5,65.5h-22M87.5,870.5h13M705.5,870.5h-15M87.5,840.5h9.5M705.5,840.5h-10M87.5,814.5h9.5M705.5,814.5h-10M87.5,792.5h9.5M705.5,792.5h-10M87.5,772.5h9.5M705.5,772.5h-10M87.5,755.5h13M705.5,755.5h-15M87.5,739.5h9.5M705.5,739.5h-10M87.5,725.5h9.5M705.5,725.5h-10M87.5,711.5h9.5M705.5,711.5h-10M87.5,699.5h9.5M705.5,699.5h-10M87.5,688.5h13M705.5,688.5h-15M87.5,677.5h9.5M705.5,677.5h-10M87.5,667.5h9.5M705.5,667.5h-10M87.5,657.5h9.5M705.5,657.5h-10M87.5,648.5h9.5M705.5,648.5h-10M87.5,640.5h13M705.5,640.5h-15M87.5,632.5h9.5M705.5,632.5h-10M87.5,624.5h9.5M705.5,624.5h-10M87.5,617.5h9.5M705.5,617.5h-10M87.5,610.5h9.5M705.5,610.5h-10"/>
</g>
<g fill="#000" stroke="#000" stroke-width="0.2">
<text x="98.6" y="26.8" font-size="21.7">13000 GeV pp</text>
<text x="694.7" y="26.8" font-size="21.5" text-anchor="end">tt</text>
<rect x="688.3" y="8.0" width="6.7" height="1.6"/>
<text x="309" y="81" font-size="21.8">bjt.d<tspan font-family="Liberation Serif" font-size="23">ϕ</tspan></text>
<text x="368.6" y="81" font-size="18.7">(atlas2022-lh)</text>
<text x="177.7" y="123.0" font-size="17.6">ATLAS</text>
<text x="177.7" y="148.2" font-size="17.6">Pythia 6.428 370</text>
<text x="177.7" y="172.4" font-size="17.6">Pythia 6.428 391</text>
<text x="177.7" y="197.4" font-size="17.6">Pythia 6.428 default</text>
<text x="177.7" y="222.5" font-size="17.6">Pythia 8.165 default</text>
</g>
<g shape-rendering="crispEdges" fill="none">
<rect x="140.0" y="113.0" width="10" height="10" fill="#000"/>
<path d="M122,143.5H169" stroke="#9a0020" stroke-width="1"/>
<path d="M145.5,137.4L151.3,148.5L139.7,148.5Z" fill="none" stroke="#9a0020" stroke-width="1" stroke-linejoin="bevel"/>
<path d="M122,167.5H169" stroke="#5e2a4c" stroke-width="1" stroke-dasharray="5 3 1 3"/>
<rect x="140.5" y="162.5" width="8" height="8" fill="none" stroke="#5e2a4c" stroke-width="1"/>
<path d="M122,192.5H169" stroke="#ff7f32" stroke-width="1" stroke-dasharray="5 3 1 3"/>
<rect x="141.0" y="188.0" width="7" height="7" fill="#ff7f32"/>
<path d="M122,217.5H169" stroke="#0000ee" stroke-width="1"/>
<path d="M145.5,212.5L149.7,220.5L141.3,220.5Z" fill="#0000ee" stroke="#0000ee" stroke-width="0.6"/>
</g>
<text x="397" y="571.3" font-size="15.3" text-anchor="middle" fill="#8c8c8c">(ATLAS_2022_I2037744)</text>
<text transform="translate(723,240.5) rotate(-90)" font-size="17.6" fill="#777" stroke="#777" stroke-width="0.25" textLength="204.5" lengthAdjust="spacing">Rivet 4.1.0, <tspan font-family="Liberation Serif">≥</tspan> 100k events</text>
<text transform="translate(722.5,596) rotate(-90)" font-size="17.6" fill="#777" stroke="#777" stroke-width="0.25" textLength="275.6" lengthAdjust="spacing">mcplots.cern.ch [arXiv:2401.10621]</text>
<text transform="translate(34.3,811) rotate(-90)" font-size="17" fill="#000" stroke="#000" stroke-width="0.2">Ratio to ATLAS</text>
<g fill="#000" stroke="#000" stroke-width="0.2" font-size="21">
<text x="74.5" y="213" text-anchor="end">10</text>
<text x="80" y="352.4" text-anchor="end">1</text>
<text x="69" y="74.2" text-anchor="end">10</text><text x="67.4" y="65.3" font-size="13.2">2</text>
<text x="62.5" y="495" text-anchor="end">10</text><text x="62" y="486.5" font-size="13.5">−1</text>
<text x="73.3" y="645.6" text-anchor="end">2</text>
<text x="75.7" y="763.5" text-anchor="end">1</text>
<text x="73.7" y="876" text-anchor="end">0.5</text>
<text x="711" y="645.8">2</text>
<text x="710.5" y="762.1">1</text>
<text x="711" y="876">0.5</text>
<text x="98" y="928" text-anchor="middle">0</text>
<text x="396" y="928" text-anchor="middle">0.5</text>
<text x="694.5" y="928" text-anchor="middle">1</text>
</g>
<g fill="#000" stroke="#000" stroke-width="0.2" font-size="22">
<text x="590.5" y="959.3">#</text>
<text transform="translate(604.6,943.4) scale(1.13,1)" font-size="21.8" font-family="Liberation Serif">Δϕ</text>
<rect x="605" y="950.9" width="27.8" height="2"/>
<text x="618.7" y="968" font-size="24" text-anchor="middle" font-family="Liberation Serif">π</text>
<text x="633" y="959.3">(b</text>
<text x="653" y="972" font-size="15">#ell</text>
<text x="678.3" y="959.3">,t</text>
<text x="690.5" y="972" font-size="15">h</text>
<text x="698.5" y="959.3">)</text>
</g>
<g transform="translate(33.8,247.5) rotate(-90)" fill="#000" stroke="#000" stroke-width="0.2" font-size="22">
<text x="0" y="0">d<tspan font-family="Liberation Serif" font-size="24.5">σ</tspan> / d #</text>
<text transform="translate(74.3,-15.2) scale(1.13,1)" font-size="21.8" font-family="Liberation Serif">Δϕ</text>
<rect x="74.3" y="-7.9" width="27.8" height="2"/>
<text x="88.2" y="9" font-size="24" text-anchor="middle" font-family="Liberation Serif">π</text>
<text x="100.5" y="0">(b</text>
<text x="121" y="10.5" font-size="14.5">#ell</text>
<text x="143.5" y="0">,t</text>
<text x="156" y="10" font-size="14.5">h</text>
<text x="164" y="0">) [pb]</text>
</g>
</svg></body></html>
